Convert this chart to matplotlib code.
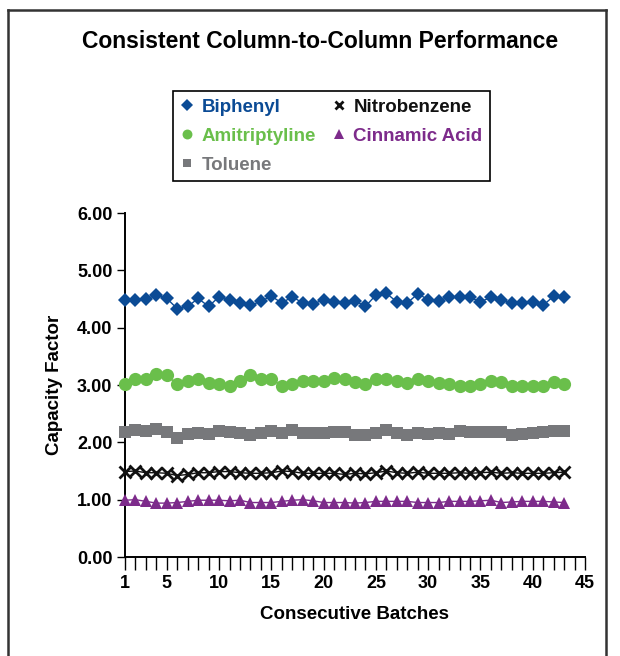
# Capacity factor across consecutive column batches
import matplotlib.pyplot as plt
from matplotlib.lines import Line2D

plt.rcParams['font.family'] = ['Liberation Sans', 'DejaVu Sans']

# --- data ---
batches = list(range(1, 44))

biphenyl = [4.48, 4.49, 4.50, 4.57, 4.51, 4.33, 4.37, 4.51, 4.37, 4.54, 4.49, 4.43, 4.39, 4.46, 4.55,
            4.43, 4.54, 4.43, 4.41, 4.49, 4.44, 4.43, 4.47, 4.37, 4.57, 4.60, 4.45, 4.43, 4.59, 4.49,
            4.47, 4.53, 4.54, 4.53, 4.45, 4.53, 4.48, 4.43, 4.43, 4.45, 4.39, 4.55, 4.53]
amitriptyline = [3.02, 3.10, 3.11, 3.19, 3.17, 3.01, 3.07, 3.11, 3.04, 3.01, 2.99, 3.07, 3.17, 3.11, 3.10,
                 2.99, 3.01, 3.07, 3.07, 3.07, 3.13, 3.11, 3.05, 3.02, 3.10, 3.10, 3.07, 3.04, 3.11, 3.07,
                 3.04, 3.01, 2.99, 2.99, 3.01, 3.07, 3.05, 2.99, 2.98, 2.99, 2.99, 3.05, 3.02]
toluene = [2.18, 2.22, 2.20, 2.23, 2.18, 2.08, 2.15, 2.16, 2.14, 2.20, 2.18, 2.16, 2.12, 2.16, 2.19,
           2.16, 2.21, 2.16, 2.16, 2.16, 2.18, 2.18, 2.13, 2.12, 2.16, 2.22, 2.16, 2.12, 2.16, 2.15,
           2.16, 2.15, 2.19, 2.18, 2.18, 2.18, 2.18, 2.12, 2.15, 2.16, 2.18, 2.19, 2.19]
nitrobenzene = [1.49, 1.50, 1.47, 1.47, 1.46, 1.42, 1.44, 1.47, 1.47, 1.49, 1.49, 1.47, 1.46, 1.46, 1.47,
                1.50, 1.49, 1.46, 1.46, 1.46, 1.46, 1.44, 1.46, 1.45, 1.47, 1.50, 1.47, 1.46, 1.48, 1.46,
                1.46, 1.46, 1.47, 1.46, 1.47, 1.48, 1.46, 1.47, 1.46, 1.46, 1.46, 1.47, 1.48]
cinnamic_acid = [0.99, 1.00, 0.97, 0.94, 0.94, 0.95, 0.97, 0.99, 0.99, 0.99, 0.98, 0.99, 0.95, 0.95, 0.95,
                 0.97, 0.99, 1.00, 0.98, 0.95, 0.95, 0.95, 0.94, 0.95, 0.97, 0.97, 0.97, 0.97, 0.95, 0.95,
                 0.95, 0.97, 0.97, 0.97, 0.98, 0.99, 0.95, 0.96, 0.97, 0.97, 0.97, 0.96, 0.95]

x_labels = [1, 5, 10, 15, 20, 25, 30, 35, 40, 45]
y_ticks = [0, 1, 2, 3, 4, 5, 6]

# (label, values, colour, marker, size)
series = [
    ("Biphenyl", biphenyl, "#0b4b95", "D", 7.5),
    ("Amitriptyline", amitriptyline, "#6abf4b", "o", 9.5),
    ("Toluene", toluene, "#77787b", "s", 8),
    ("Nitrobenzene", nitrobenzene, "#111111", "x", 8),
    ("Cinnamic Acid", cinnamic_acid, "#7d2b8b", "^", 9),
]

# --- figure ---
fig = plt.figure(figsize=(6.2, 6.56), dpi=100)
ax = fig.add_axes([125 / 620, 1 - 557 / 656, 460 / 620, 344 / 656])

handles = []
for name, vals, col, mk, ms in series:
    mew = 2 if mk == "x" else 0
    ax.plot(batches, vals, color=col, lw=1, marker=mk, ms=ms, mew=mew,
            mec=col, mfc=col, clip_on=False, zorder=3)
    handles.append(Line2D([], [], ls="none", marker=mk, color=col, ms=ms * 0.75,
                          mew=mew, label=name))

ax.set_xlim(1, 45)
ax.set_ylim(0, 6)
ax.spines[["top", "right"]].set_visible(False)
ax.spines[["left", "bottom"]].set_linewidth(1.4)

ax.set_xticks(range(1, 46))
ax.set_xticklabels([str(i) if i in x_labels else "" for i in range(1, 46)],
                   fontsize=13, fontweight="bold")
ax.set_yticks(y_ticks)
ax.set_yticklabels([f"{v:.2f}" for v in y_ticks], fontsize=13, fontweight="bold")
ax.tick_params(direction="out", width=1)
ax.tick_params(axis="x", length=9, pad=4)
ax.tick_params(axis="y", length=6, pad=3)

ax.set_xlabel("Consecutive Batches", fontsize=13.5, fontweight="bold", labelpad=10)
ax.set_ylabel("Capacity Factor", fontsize=13.5, fontweight="bold", labelpad=10)

fig.text(0.516, 1 - 42 / 656, "Consistent Column-to-Column Performance", ha="center", va="center",
         fontsize=16.5, fontweight="bold", family=["Liberation Sans Narrow", "Liberation Sans"])

leg = fig.legend(handles=handles, ncol=2,
                 loc="upper left", bbox_to_anchor=(173 / 620, 1 - 91 / 656), borderaxespad=0,
                 frameon=True, fancybox=False, edgecolor="black", framealpha=1,
                 prop={"size": 13.5, "weight": "bold"}, handlelength=0.7,
                 handletextpad=0.4, columnspacing=0.9, labelspacing=0.62,
                 borderpad=0.42)
leg.get_frame().set_linewidth(1.2)
for txt, (_, _, col, _, _) in zip(leg.get_texts(), series):
    txt.set_color(col)

# outer frame (top, left, right)
for xs, ys in [((8 / 620, 606 / 620), (1 - 10 / 656, 1 - 10 / 656)),
               ((8 / 620, 8 / 620), (0, 1 - 10 / 656)),
               ((606 / 620, 606 / 620), (0, 1 - 10 / 656))]:
    fig.add_artist(Line2D(xs, ys, color="#333333", lw=1.8))

fig.savefig("out.png", dpi=100)
